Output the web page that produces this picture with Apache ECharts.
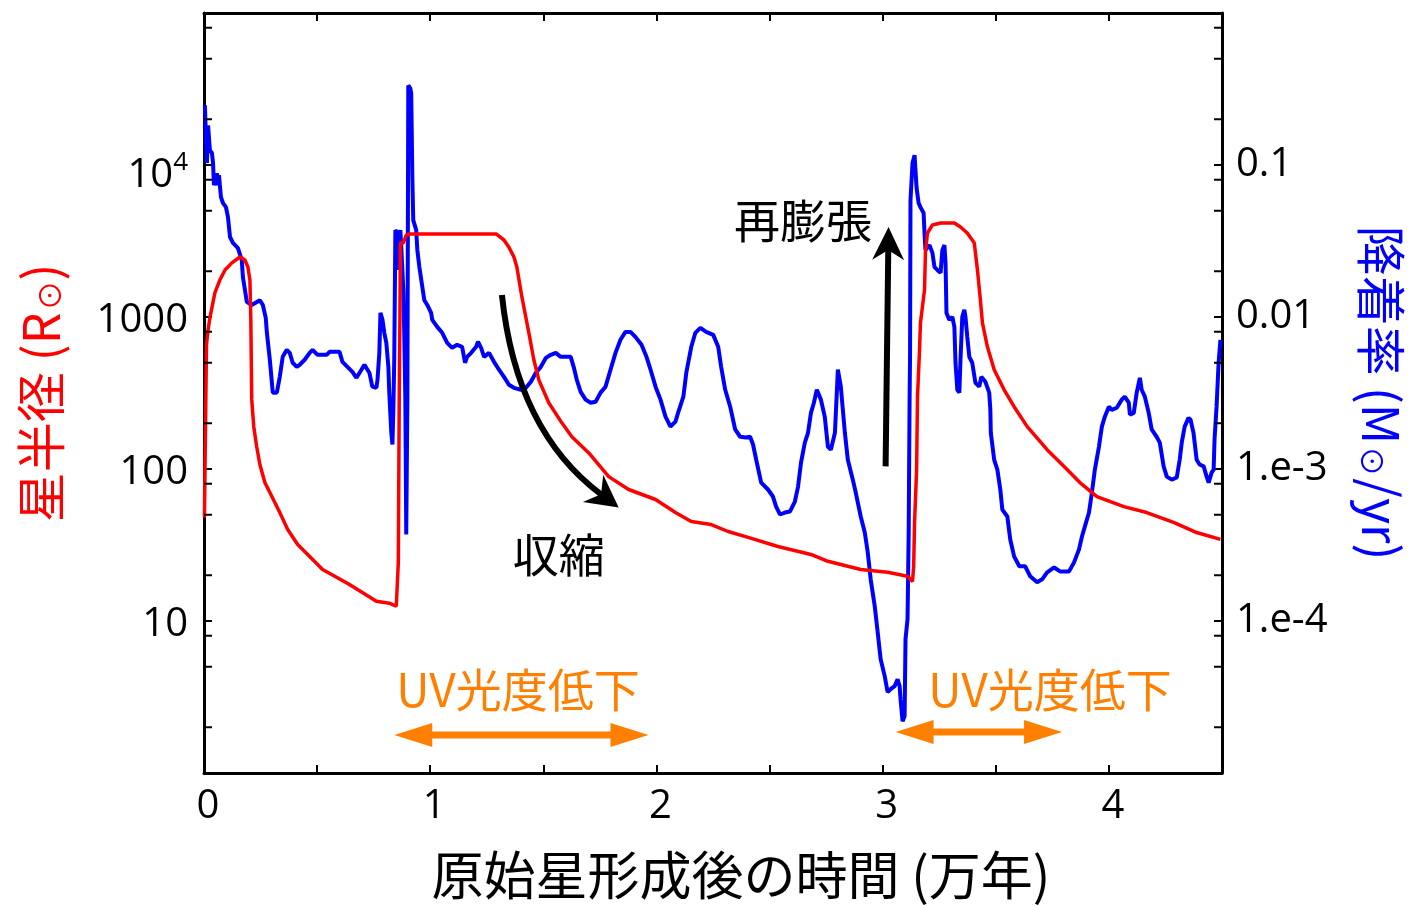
<!DOCTYPE html>
<html>
<head>
<meta charset="utf-8">
<script src="https://cdn.jsdelivr.net/npm/echarts@6/dist/echarts.min.js"></script>
<style>
  html, body { margin: 0; padding: 0; background: #ffffff; }
  #chart { width: 1414px; height: 906px; }
</style>
</head>
<body>
<div id="chart"></div>
<script>
// Time after protostar formation, in units of 10^4 yr
const radiusTime = [
  0.002, 0.007, 0.011, 0.018, 0.026, 0.048, 0.070, 0.093, 0.123, 0.159,
  0.181, 0.194, 0.203, 0.207, 0.209, 0.211, 0.220, 0.233, 0.247, 0.269,
  0.300, 0.335, 0.370, 0.414, 0.467, 0.524, 0.586, 0.643, 0.700, 0.762,
  0.819, 0.850, 0.859, 0.863, 0.866, 0.868, 0.881, 0.894, 0.907, 1.291,
  1.326, 1.348, 1.370, 1.383, 1.405, 1.436, 1.458, 1.480, 1.524, 1.581,
  1.626, 1.700, 1.789, 1.877, 1.996, 2.084, 2.154, 2.242, 2.317, 2.405,
  2.537, 2.683, 2.758, 2.903, 3.022, 3.110, 3.132, 3.137, 3.141, 3.150,
  3.154, 3.163, 3.167, 3.185, 3.189, 3.198, 3.220, 3.256, 3.317, 3.344,
  3.374, 3.405, 3.419, 3.432, 3.441, 3.463, 3.493, 3.537, 3.581, 3.639,
  3.727, 3.802, 3.872, 3.947, 4.066, 4.167, 4.286, 4.388, 4.493
];
// Stellar radius, in solar radii
const radiusValue = [
  48, 211, 656, 823, 986, 1440, 1750, 2040, 2270, 2480,
  2370, 2130, 1750, 957, 523, 286, 190, 140, 107, 81.4,
  65.9, 51.7, 40.0, 31.9, 26.6, 21.8, 19.4, 17.4, 15.4, 13.5,
  13.1, 12.5, 24.3, 286, 957, 3070, 3070, 3460, 3520, 3520,
  3210, 2880, 2480, 2130, 1360, 787, 523, 386, 273, 202,
  163, 128, 89.1, 73.3, 63.0, 51.7, 45.2, 43.1, 38.8, 35.5,
  30.9, 27.4, 24.7, 21.8, 20.9, 19.7, 18.2, 22.9, 44.5, 99.1,
  299, 608, 915, 1510, 2640, 3570, 4030, 4150, 4150, 3910,
  3570, 3070, 2040, 1290, 915, 637, 450, 332, 257, 190,
  134, 104, 81.4, 65.9, 56.6, 51.7, 44.5, 38.2, 34.4
];

const accretionTime = [
  0.004, 0.009, 0.013, 0.018, 0.026, 0.035, 0.040, 0.044, 0.057, 0.062,
  0.066, 0.075, 0.084, 0.097, 0.106, 0.115, 0.128, 0.150, 0.167, 0.172,
  0.181, 0.189, 0.211, 0.247, 0.260, 0.273, 0.278, 0.291, 0.304, 0.322,
  0.335, 0.348, 0.366, 0.379, 0.392, 0.410, 0.423, 0.445, 0.467, 0.480,
  0.502, 0.542, 0.555, 0.599, 0.612, 0.634, 0.656, 0.674, 0.696, 0.709,
  0.731, 0.744, 0.762, 0.767, 0.775, 0.780, 0.789, 0.797, 0.806, 0.815,
  0.819, 0.828, 0.833, 0.837, 0.841, 0.846, 0.855, 0.859, 0.863, 0.868,
  0.872, 0.881, 0.885, 0.890, 0.894, 0.899, 0.903, 0.912, 0.916, 0.921,
  0.925, 0.938, 0.943, 0.952, 0.965, 0.974, 0.987, 1.004, 1.009, 1.031,
  1.053, 1.075, 1.097, 1.119, 1.141, 1.154, 1.163, 1.181, 1.203, 1.211,
  1.225, 1.238, 1.260, 1.282, 1.304, 1.326, 1.348, 1.370, 1.401, 1.423,
  1.445, 1.467, 1.489, 1.511, 1.533, 1.555, 1.577, 1.621, 1.634, 1.648,
  1.665, 1.687, 1.709, 1.731, 1.753, 1.775, 1.797, 1.819, 1.841, 1.863,
  1.885, 1.907, 1.934, 1.956, 1.974, 1.996, 2.018, 2.040, 2.062, 2.084,
  2.097, 2.119, 2.132, 2.154, 2.172, 2.194, 2.220, 2.251, 2.273, 2.286,
  2.304, 2.326, 2.348, 2.370, 2.396, 2.414, 2.427, 2.441, 2.463, 2.493,
  2.515, 2.529, 2.546, 2.568, 2.590, 2.612, 2.626, 2.639, 2.656, 2.670,
  2.683, 2.696, 2.709, 2.727, 2.744, 2.758, 2.771, 2.789, 2.802, 2.815,
  2.833, 2.846, 2.868, 2.881, 2.903, 2.921, 2.934, 2.947, 2.965, 2.978,
  2.991, 3.009, 3.022, 3.035, 3.053, 3.066, 3.075, 3.079, 3.088, 3.097,
  3.101, 3.110, 3.115, 3.119, 3.121, 3.123, 3.132, 3.141, 3.145, 3.150,
  3.159, 3.167, 3.181, 3.185, 3.189, 3.207, 3.220, 3.229, 3.242, 3.256,
  3.264, 3.273, 3.278, 3.282, 3.295, 3.308, 3.317, 3.322, 3.330, 3.339,
  3.344, 3.352, 3.361, 3.366, 3.374, 3.383, 3.396, 3.410, 3.427, 3.436,
  3.454, 3.471, 3.476, 3.478, 3.493, 3.507, 3.520, 3.529, 3.551, 3.564,
  3.581, 3.604, 3.630, 3.652, 3.683, 3.705, 3.727, 3.758, 3.784, 3.824,
  3.846, 3.868, 3.881, 3.894, 3.912, 3.925, 3.938, 3.956, 3.969, 3.982,
  4.000, 4.013, 4.035, 4.057, 4.070, 4.088, 4.093, 4.110, 4.123, 4.137,
  4.145, 4.159, 4.176, 4.189, 4.211, 4.225, 4.242, 4.256, 4.278, 4.300,
  4.313, 4.322, 4.335, 4.352, 4.361, 4.374, 4.388, 4.401, 4.419, 4.432,
  4.441, 4.454, 4.463, 4.467, 4.476, 4.485, 4.493
];
// Accretion rate, in solar masses per year
const accretionRate = [
  0.247, 0.146, 0.103, 0.182, 0.125, 0.120, 0.103, 0.0736, 0.0883, 0.0736,
  0.0857, 0.0615, 0.0561, 0.0528, 0.0454, 0.0336, 0.0307, 0.0284, 0.0237, 0.0183,
  0.0151, 0.0126, 0.0120, 0.0129, 0.0120, 0.00986, 0.00787, 0.00523, 0.00318, 0.00318,
  0.00404, 0.00547, 0.00608, 0.00581, 0.00500, 0.00470, 0.00485, 0.00523, 0.00581, 0.00608,
  0.00564, 0.00564, 0.00590, 0.00590, 0.00507, 0.00470, 0.00436, 0.00398, 0.00450, 0.00485,
  0.00430, 0.00348, 0.00342, 0.00386, 0.00581, 0.01064, 0.00957, 0.00787, 0.00676, 0.00470,
  0.00318, 0.00173, 0.00145, 0.00245, 0.00523, 0.0373, 0.0357, 0.0204, 0.0346, 0.0373,
  0.0288, 0.0151, 0.00823, 0.00286, 0.000371, 0.00286, 0.334, 0.319, 0.296, 0.0832,
  0.0434, 0.0373, 0.0276, 0.0213, 0.0158, 0.0129, 0.0120, 0.01064, 0.00957, 0.00861,
  0.00787, 0.00676, 0.00627, 0.00656, 0.00637, 0.00500, 0.00547, 0.00581, 0.00637, 0.00687,
  0.00627, 0.00547, 0.00581, 0.00507, 0.00450, 0.00404, 0.00358, 0.00342, 0.00332, 0.00342,
  0.00375, 0.00430, 0.00470, 0.00538, 0.00564, 0.00581, 0.00547, 0.00547, 0.00470, 0.00386,
  0.00322, 0.00286, 0.00273, 0.00277, 0.00318, 0.00348, 0.00450, 0.00581, 0.00708, 0.00798,
  0.00798, 0.00740, 0.00656, 0.00547, 0.00450, 0.00348, 0.00286, 0.00221, 0.00190, 0.00205,
  0.00238, 0.00299, 0.00430, 0.00637, 0.00787, 0.00848, 0.00798, 0.00763, 0.00637, 0.00470,
  0.00332, 0.00257, 0.00182, 0.00163, 0.00161, 0.00163, 0.00145, 0.00115, 0.000814, 0.000733,
  0.000659, 0.000566, 0.000502, 0.000517, 0.000525, 0.000611, 0.000766, 0.00110, 0.00149, 0.00173,
  0.00234, 0.00273, 0.00332, 0.00286, 0.00221, 0.00140, 0.00134, 0.00173, 0.00450, 0.00348,
  0.00173, 0.00115, 0.000851, 0.000700, 0.000487, 0.000382, 0.000283, 0.000188, 0.000125, 0.0000843,
  0.0000561, 0.0000434, 0.0000340, 0.0000356, 0.0000373, 0.0000414, 0.0000373, 0.0000306, 0.0000219, 0.0000237,
  0.0000758, 0.000103, 0.000382, 0.00286, 0.00547, 0.0587, 0.103, 0.116, 0.0925, 0.0705,
  0.0561, 0.0528, 0.0483, 0.0357, 0.0276, 0.0297, 0.0264, 0.0213, 0.0204, 0.0195,
  0.0276, 0.0297, 0.0226, 0.01064, 0.00957, 0.01002, 0.00861, 0.00500, 0.00332, 0.00318,
  0.00523, 0.01002, 0.01114, 0.01002, 0.00740, 0.00547, 0.00500, 0.00369, 0.00348, 0.00404,
  0.00375, 0.00318, 0.00245, 0.00173, 0.00115, 0.000991, 0.000733, 0.000541, 0.000487, 0.000344,
  0.000266, 0.000229, 0.000229, 0.000197, 0.000180, 0.000188, 0.000209, 0.000225, 0.000212, 0.000212,
  0.000243, 0.000296, 0.000360, 0.000419, 0.000517, 0.000700, 0.000991, 0.00140, 0.00190, 0.00221,
  0.00257, 0.00245, 0.00253, 0.00286, 0.00299, 0.00273, 0.00228, 0.00234, 0.00318, 0.00398,
  0.00332, 0.00299, 0.00234, 0.00182, 0.00163, 0.00149, 0.00104, 0.000891, 0.000851, 0.000879,
  0.00115, 0.00149, 0.00190, 0.00217, 0.00211, 0.00173, 0.00115, 0.00107, 0.00104, 0.000891,
  0.000814, 0.000946, 0.000991, 0.00156, 0.00257, 0.00500, 0.00708
];

// Tick labels, indexed by decade exponent
const radiusTickLabels = { 0: '', 1: '10', 2: '100', 3: '1000', 4: '{b|10}{s|4}', 5: '' };
const rateTickLabels = { '-5': '', '-4': '1.e-4', '-3': '1.e-3', '-2': '0.01', '-1': '0.1', '0': '' };
// Minor ticks on the radius scale (the rate scale shares the same positions)
const minorTickValues = [2, 5, 8, 20, 50, 80, 200, 500, 800, 2000, 5000, 8000, 20000, 50000, 80000];

// Annotation texts and their anchor points (time, radius)
const noteText = ['再膨張', '収縮', 'UV光度低下', 'UV光度低下'];
const noteTime = [2.648, 1.568, 1.388, 3.740];
const noteLevel = [4343, 27.4, 3.56, 3.56];
const noteColor = ['#000000', '#000000', '#ff8000', '#ff8000'];

// Arrows: [time1, radius1, time2, radius2]
const uvArrows = [[0.841, 1.78, 1.965, 1.78], [3.057, 1.86, 3.793, 1.86]];
const reExpansionArrow = [[3.013, 104, 3.026, 3908]];
// Contraction arrow: start, bezier control point, tip
const contractionArrow = [[1.317, 1396, 1.379, 179, 1.833, 55.8]];

const zip = (xs, ys) => xs.map((x, i) => [x, ys[i]]);

const tickFont = '"Open Sans", "Noto Sans", sans-serif';
const cjkFont = '"Noto Sans CJK JP", "Noto Sans", sans-serif';

function headPoints(tip, ux, uy, len, half, notch) {
  const px = -uy, py = ux;
  const bx = tip[0] - ux * len, by = tip[1] - uy * len;
  return [
    tip,
    [bx + px * half, by + py * half],
    [tip[0] - ux * (len - notch), tip[1] - uy * (len - notch)],
    [bx - px * half, by - py * half]
  ];
}

function unit(a, b) {
  const dx = b[0] - a[0], dy = b[1] - a[1];
  const n = Math.hypot(dx, dy) || 1;
  return [dx / n, dy / n];
}

const chart = echarts.init(document.getElementById('chart'), null, { renderer: 'canvas' });

const axisLineStyle = { color: '#000', width: 3 };
const tickStyle = { color: '#000', width: 2 };

const option = {
  animation: false,
  backgroundColor: '#ffffff',
  grid: { left: 204, right: 189, top: 13, bottom: 132, containLabel: false },
  xAxis: [
    {
      type: 'value', min: 0, max: 4.5, interval: 0.5, position: 'bottom',
      axisLine: { onZero: false, lineStyle: axisLineStyle },
      axisTick: { inside: true, length: 8, lineStyle: tickStyle },
      splitLine: { show: false },
      axisLabel: {
        fontSize: 40, color: '#000', fontFamily: tickFont, margin: 14,
        padding: [0, 0, 0, 8],
        formatter: v => (Math.abs(v - Math.round(v)) < 1e-6 && v < 4.4) ? String(Math.round(v)) : ''
      },
      name: '原始星形成後の時間 (万年)',
      nameLocation: 'middle', nameGap: 76,
      nameTextStyle: { fontSize: 52, color: '#000', fontFamily: cjkFont, padding: [0, 0, 0, 56] }
    },
    {
      type: 'value', min: 0, max: 4.5, interval: 0.5, position: 'top',
      axisLine: { onZero: false, lineStyle: axisLineStyle },
      axisTick: { inside: true, length: 8, lineStyle: tickStyle },
      axisLabel: { show: false },
      splitLine: { show: false }
    }
  ],
  yAxis: [
    {
      type: 'log', logBase: 10, min: 1, max: 100000, position: 'left',
      axisLine: { onZero: false, lineStyle: axisLineStyle },
      axisTick: { inside: true, length: 8, lineStyle: tickStyle },
      splitLine: { show: false },
      axisLabel: {
        fontSize: 40, color: '#000', fontFamily: tickFont, margin: 16,
        padding: [8, 0, 0, 0],
        formatter: v => radiusTickLabels[Math.round(Math.log10(v))] || '',
        rich: {
          b: { fontSize: 40, fontFamily: tickFont, color: '#000', padding: [14, 0, 0, 0] },
          s: { fontSize: 26, fontFamily: tickFont, color: '#000', padding: [0, 0, 12, 0] }
        }
      },
      name: '星半径 (R{o|⊙})',
      nameLocation: 'middle', nameGap: 138, nameRotate: 90,
      nameTextStyle: {
        fontSize: 50, color: '#ff0000', fontFamily: cjkFont,
        rich: { o: { fontSize: 30, color: '#ff0000', fontFamily: cjkFont, padding: [18, 0, 0, 2] } }
      }
    },
    {
      type: 'log', logBase: 10, min: 0.00001, max: 1, position: 'right',
      axisLine: { onZero: false, lineStyle: axisLineStyle },
      axisTick: { inside: true, length: 8, lineStyle: tickStyle },
      splitLine: { show: false },
      axisLabel: {
        fontSize: 40, color: '#000', fontFamily: tickFont, margin: 14,
        padding: [8, 0, 0, 0],
        formatter: v => rateTickLabels[String(Math.round(Math.log10(v)))] || ''
      },
      name: '降着率 (M{o|⊙}/yr)',
      nameLocation: 'middle', nameGap: 134, nameRotate: -90,
      nameTextStyle: {
        fontSize: 50, color: '#0000ff', fontFamily: cjkFont,
        rich: { o: { fontSize: 30, color: '#0000ff', fontFamily: cjkFont, padding: [18, 2, 0, 2] } }
      }
    }
  ],
  series: [
    {
      name: '降着率', type: 'line', xAxisIndex: 0, yAxisIndex: 1,
      data: zip(accretionTime, accretionRate),
      showSymbol: false, symbol: 'none',
      lineStyle: { color: '#0000ff', width: 4 },
      z: 3
    },
    {
      name: '星半径', type: 'line', xAxisIndex: 0, yAxisIndex: 0,
      data: zip(radiusTime, radiusValue),
      showSymbol: false, symbol: 'none',
      lineStyle: { color: '#ff0000', width: 3.5 },
      z: 4
    },
    {
      // minor ticks on both vertical frame sides
      type: 'custom', xAxisIndex: 0, yAxisIndex: 0, silent: true, z: 6,
      data: minorTickValues.map(v => [0, v]),
      encode: { x: 0, y: 1 },
      renderItem: (params, api) => {
        const y = api.coord([0, api.value(1)])[1];
        const cs = params.coordSys;
        const xl = cs.x, xr = cs.x + cs.width;
        return {
          type: 'group',
          children: [
            { type: 'line', shape: { x1: xl, y1: y, x2: xl + 8, y2: y }, style: { stroke: '#000', lineWidth: 2 } },
            { type: 'line', shape: { x1: xr - 8, y1: y, x2: xr, y2: y }, style: { stroke: '#000', lineWidth: 2 } }
          ]
        };
      }
    },
    {
      // orange double-headed arrows
      type: 'custom', xAxisIndex: 0, yAxisIndex: 0, silent: true, z: 7, clip: false,
      data: uvArrows,
      encode: { x: [0, 2], y: [1, 3] },
      renderItem: (params, api) => {
        const a = api.coord([api.value(0), api.value(1)]);
        const b = api.coord([api.value(2), api.value(3)]);
        const [ux, uy] = unit(a, b);
        const len = 38, half = 12;
        const style = { fill: '#ff8000' };
        return {
          type: 'group',
          children: [
            { type: 'line', shape: { x1: a[0] + ux * (len - 2), y1: a[1] + uy * (len - 2), x2: b[0] - ux * (len - 2), y2: b[1] - uy * (len - 2) },
              style: { stroke: '#ff8000', lineWidth: 7 } },
            { type: 'polygon', shape: { points: headPoints(b, ux, uy, len, half, 0) }, style },
            { type: 'polygon', shape: { points: headPoints(a, -ux, -uy, len, half, 0) }, style }
          ]
        };
      }
    },
    {
      // straight black arrow (re-expansion)
      type: 'custom', xAxisIndex: 0, yAxisIndex: 0, silent: true, z: 7, clip: false,
      data: reExpansionArrow,
      encode: { x: [0, 2], y: [1, 3] },
      renderItem: (params, api) => {
        const a = api.coord([api.value(0), api.value(1)]);
        const b = api.coord([api.value(2), api.value(3)]);
        const [ux, uy] = unit(a, b);
        const len = 33, half = 16, notch = 10;
        return {
          type: 'group',
          children: [
            { type: 'line', shape: { x1: a[0], y1: a[1], x2: b[0] - ux * (len - notch), y2: b[1] - uy * (len - notch) },
              style: { stroke: '#000', lineWidth: 6 } },
            { type: 'polygon', shape: { points: headPoints(b, ux, uy, len, half, notch) }, style: { fill: '#000' } }
          ]
        };
      }
    },
    {
      // curved black arrow (contraction)
      type: 'custom', xAxisIndex: 0, yAxisIndex: 0, silent: true, z: 7, clip: false,
      data: contractionArrow,
      encode: { x: [0, 2, 4], y: [1, 3, 5] },
      renderItem: (params, api) => {
        const a = api.coord([api.value(0), api.value(1)]);
        const c = api.coord([api.value(2), api.value(3)]);
        const b = api.coord([api.value(4), api.value(5)]);
        const [ux, uy] = unit(c, b);
        const len = 32, half = 17, notch = 10;
        const end = [b[0] - ux * (len - notch), b[1] - uy * (len - notch)];
        return {
          type: 'group',
          children: [
            { type: 'bezierCurve', shape: { x1: a[0], y1: a[1], cpx1: c[0], cpy1: c[1], x2: end[0], y2: end[1] },
              style: { stroke: '#000', lineWidth: 6, fill: null } },
            { type: 'polygon', shape: { points: headPoints(b, ux, uy, len, half, notch) }, style: { fill: '#000' } }
          ]
        };
      }
    },
    {
      // annotation texts
      type: 'custom', xAxisIndex: 0, yAxisIndex: 0, silent: true, z: 8, clip: false,
      data: noteTime.map((t, i) => [t, noteLevel[i]]),
      encode: { x: 0, y: 1 },
      renderItem: (params, api) => {
        const p = api.coord([api.value(0), api.value(1)]);
        const i = params.dataIndex;
        return {
          type: 'text', x: p[0], y: p[1],
          style: {
            text: noteText[i], fill: noteColor[i],
            fontSize: 46, fontFamily: cjkFont,
            align: 'center', verticalAlign: 'middle'
          }
        };
      }
    }
  ]
};

chart.setOption(option);
</script>
</body>
</html>
